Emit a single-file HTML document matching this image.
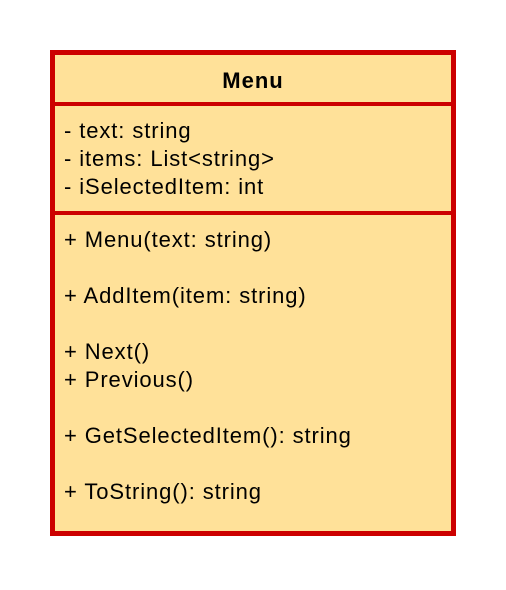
<!DOCTYPE html>
<html><head><style>
body{margin:0;width:506px;height:590px;background:#fff;position:relative;font-family:"Liberation Sans",Arial,sans-serif;}
.box{position:absolute;left:50px;top:50px;width:396px;height:476px;border:5px solid #cc0000;background:#ffe199;}
.hr{position:absolute;left:0;width:396px;height:4px;background:#cc0000;}
.t{position:absolute;left:9px;font-size:22px;line-height:28px;color:#000;white-space:pre;letter-spacing:0.9px;}
.title{position:absolute;left:0;width:396px;top:13px;text-align:center;font-weight:bold;font-size:22px;letter-spacing:1px;}
</style></head><body>
<div class="box">
<div class="title">Menu</div>
<div class="hr" style="top:47px"></div>
<div class="t" style="top:62px">- text: string
- items: List&lt;string&gt;
- iSelectedItem: int</div>
<div class="hr" style="top:156px"></div>
<div class="t" style="top:171px">+ Menu(text: string)

+ AddItem(item: string)

+ Next()
+ Previous()

+ GetSelectedItem(): string

+ ToString(): string</div>
</div>
</body></html>
